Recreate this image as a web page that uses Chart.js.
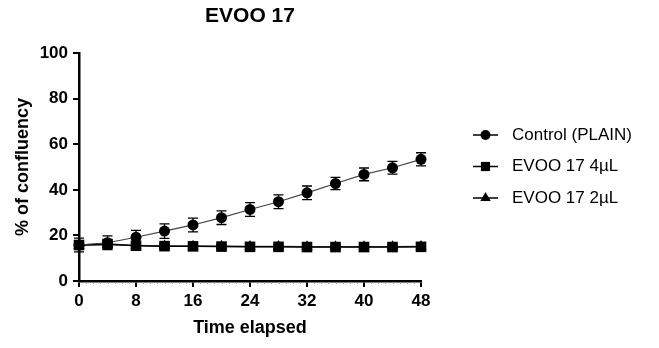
<!DOCTYPE html>
<html>
<head>
<meta charset="utf-8">
<script src="https://cdn.jsdelivr.net/npm/chart.js@4.4.1/dist/chart.umd.min.js"></script>
<style>
  html, body { margin: 0; padding: 0; background: #fff; }
  #wrap { width: 659px; height: 348px; }
</style>
</head>
<body>
<div id="wrap"><canvas id="chart" width="659" height="348"></canvas></div>
<script>
// values (time in hours, % confluency)
const hours = [0, 4, 8, 12, 16, 20, 24, 28, 32, 36, 40, 44, 48];
const control = [15.8, 16.8, 19.2, 21.9, 24.6, 27.8, 31.4, 34.8, 38.7, 42.8, 46.8, 49.7, 53.4];
const controlErr = [3.0, 3.0, 3.0, 3.2, 3.0, 3.0, 3.0, 3.0, 3.0, 2.7, 2.8, 2.8, 2.9];
const evoo4 = [15.8, 16.2, 15.5, 15.3, 15.2, 15.1, 15.0, 15.0, 14.9, 14.9, 14.9, 14.9, 15.0];
const evoo4Err = [1.2, 1.0, 1.0, 0.9, 0.8, 0.8, 0.8, 0.7, 0.7, 0.7, 0.7, 0.7, 0.7];
const evoo2 = [15.6, 15.9, 15.6, 15.4, 15.3, 15.2, 15.1, 15.1, 15.0, 15.0, 15.0, 15.0, 15.1];
const evoo2Err = [1.0, 0.9, 0.9, 0.8, 0.8, 0.7, 0.7, 0.7, 0.7, 0.7, 0.7, 0.7, 0.7];
const xTicks = [0, 8, 16, 24, 32, 40, 48];
const yTicks = [0, 20, 40, 60, 80, 100];
const labels = ["Control (PLAIN)", "EVOO 17 4\u00b5L", "EVOO 17 2\u00b5L"];

const FONT = '"Liberation Sans", Arial, Helvetica, sans-serif';
Chart.defaults.font.family = FONT;
Chart.defaults.color = "#000";

const toPoints = (vals) => vals.map((v, i) => ({ x: hours[i], y: v }));

// vertical error bars with caps, drawn under the markers
const errorBars = {
  id: "errorBars",
  beforeDatasetsDraw(chart) {
    const { ctx, scales: { x, y } } = chart;
    chart.data.datasets.forEach((ds) => {
      if (!ds.errors) return;
      ctx.save();
      ctx.strokeStyle = "#000";
      ctx.lineWidth = 1.3;
      ds.data.forEach((pt, j) => {
        const px = x.getPixelForValue(pt.x);
        const top = y.getPixelForValue(pt.y + ds.errors[j]);
        const bot = y.getPixelForValue(pt.y - ds.errors[j]);
        ctx.beginPath();
        ctx.moveTo(px, top); ctx.lineTo(px, bot);
        ctx.moveTo(px - 5, top); ctx.lineTo(px + 5, top);
        ctx.moveTo(px - 5, bot); ctx.lineTo(px + 5, bot);
        ctx.stroke();
      });
      ctx.restore();
    });
  },
};

// small minor ticks every hour on the x axis
const minorTicks = {
  id: "minorTicks",
  afterDraw(chart) {
    const { ctx, scales: { x, y } } = chart;
    const y0 = y.getPixelForValue(0);
    ctx.save();
    ctx.strokeStyle = "#999";
    ctx.lineWidth = 1;
    for (let h = 0; h <= 48; h++) {
      if (h % 8 === 0) continue;
      const px = Math.round(x.getPixelForValue(h)) + 0.5;
      ctx.beginPath();
      ctx.moveTo(px, y0 + 1);
      ctx.lineTo(px, y0 + 3);
      ctx.stroke();
    }
    ctx.restore();
  },
};

// legend on the right: short line with marker, then label
const sideLegend = {
  id: "sideLegend",
  afterDraw(chart) {
    const { ctx } = chart;
    const x0 = 473, x1 = 498, tx = 512;
    const rows = [135, 166.5, 198];
    ctx.save();
    chart.data.datasets.forEach((ds, i) => {
      const yy = rows[i];
      ctx.strokeStyle = "#000";
      ctx.lineWidth = 1.5;
      ctx.beginPath();
      ctx.moveTo(x0, yy); ctx.lineTo(x1, yy);
      ctx.stroke();
      ctx.fillStyle = "#000";
      Chart.helpers.drawPoint(ctx, {
        pointStyle: ds.pointStyle,
        radius: ds.legendRadius,
        rotation: 0,
        borderWidth: 0,
      }, (x0 + x1) / 2, yy);
      ctx.font = "17px " + FONT;
      ctx.textBaseline = "middle";
      ctx.textAlign = "left";
      ctx.fillText(ds.label, tx, yy);
    });
    ctx.restore();
  },
};

new Chart(document.getElementById("chart"), {
  type: "line",
  data: {
    datasets: [
      {
        label: labels[0],
        data: toPoints(control),
        errors: controlErr,
        borderColor: "#444",
        borderWidth: 1.2,
        pointStyle: "circle",
        pointRadius: 5.5,
        legendRadius: 5,
        pointBackgroundColor: "#000",
        pointBorderColor: "#000",
        pointBorderWidth: 0,
        order: 0,
        clip: false,
      },
      {
        label: labels[1],
        data: toPoints(evoo4),
        errors: evoo4Err,
        borderColor: "#000",
        borderWidth: 1.5,
        pointStyle: "rect",
        pointRadius: 7.5,
        legendRadius: 6.5,
        pointBackgroundColor: "#000",
        pointBorderColor: "#000",
        pointBorderWidth: 0,
        order: 1,
        clip: false,
      },
      {
        label: labels[2],
        data: toPoints(evoo2),
        errors: evoo2Err,
        borderColor: "#555",
        borderWidth: 1.5,
        pointStyle: "triangle",
        pointRadius: 6.5,
        legendRadius: 6,
        pointBackgroundColor: "#000",
        pointBorderColor: "#000",
        pointBorderWidth: 0,
        order: 2,
        clip: false,
      },
    ],
  },
  options: {
    responsive: false,
    animation: false,
    events: [],
    layout: { padding: { left: 0, right: 238, top: 0, bottom: 0 } },
    plugins: {
      legend: { display: false },
      tooltip: { enabled: false },
      title: {
        display: true,
        text: "EVOO 17",
        fullSize: false,
        color: "#000",
        font: { size: 21, weight: "bold" },
        padding: { top: 4, bottom: 24 },
      },
    },
    scales: {
      x: {
        type: "linear",
        min: 0,
        max: 48,
        afterBuildTicks: (s) => { s.ticks = xTicks.map((v) => ({ value: v })); },
        afterFit: (s) => { s.height = 67; },
        border: { display: true, color: "#000", width: 2.5 },
        grid: { drawOnChartArea: false, drawTicks: true, tickLength: 6, color: "#000", lineWidth: 2 },
        ticks: { font: { size: 17, weight: "bold" }, color: "#000", padding: 4, maxRotation: 0 },
        title: {
          display: true,
          text: "Time elapsed",
          font: { size: 18, weight: "bold" },
          color: "#000",
          padding: { top: 0, bottom: 9 },
        },
      },
      y: {
        type: "linear",
        min: 0,
        max: 100,
        afterBuildTicks: (s) => { s.ticks = yTicks.map((v) => ({ value: v })); },
        afterFit: (s) => { s.width = 79; },
        border: { display: true, color: "#000", width: 2.5 },
        grid: { drawOnChartArea: false, drawTicks: true, tickLength: 6, color: "#000", lineWidth: 2 },
        ticks: { font: { size: 17, weight: "bold" }, color: "#000", padding: 5 },
        title: {
          display: true,
          text: "% of confluency",
          font: { size: 18, weight: "bold" },
          color: "#000",
          padding: { top: 12, bottom: 0 },
        },
      },
    },
  },
  plugins: [errorBars, minorTicks, sideLegend],
});
</script>
</body>
</html>
